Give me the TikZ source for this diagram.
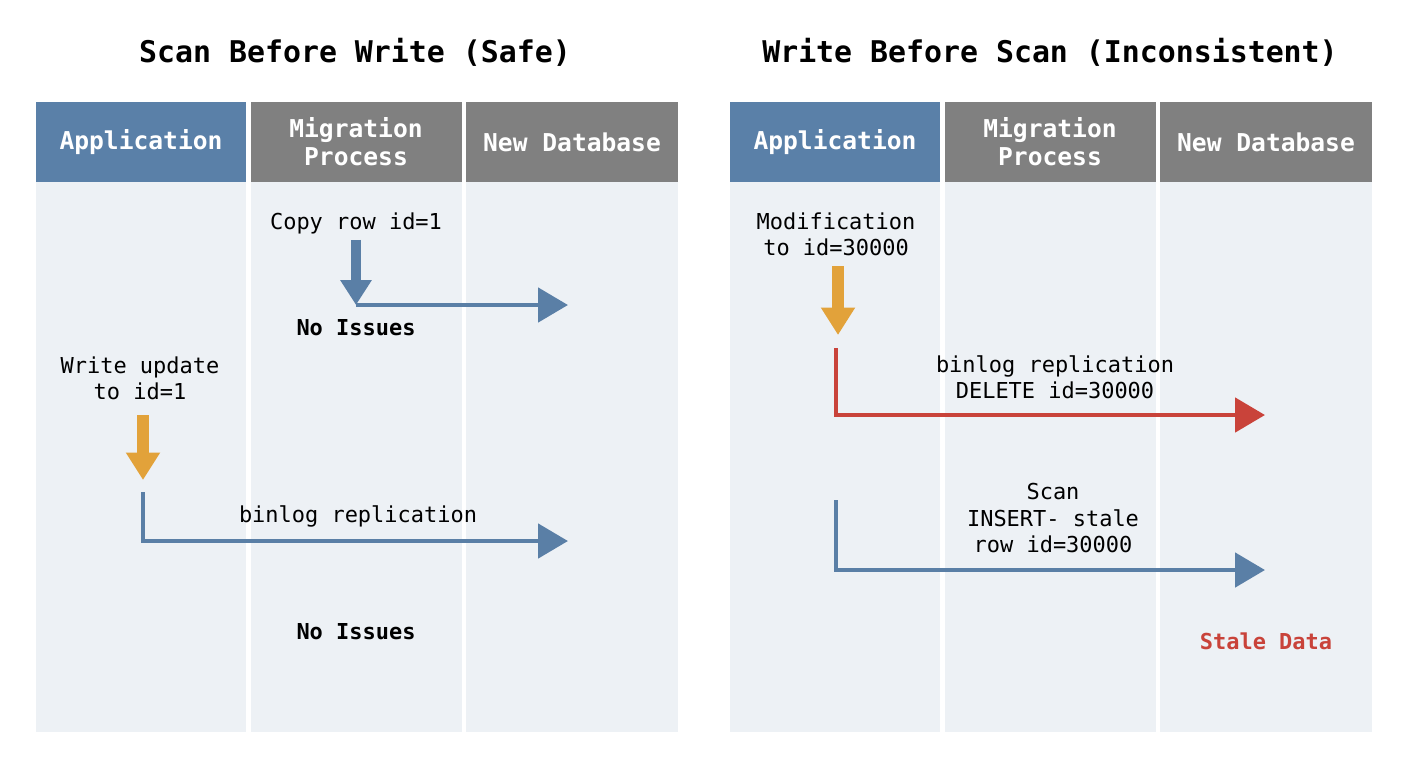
\documentclass[tikz,border=0pt]{standalone}
\usepackage{fontspec}
\setmonofont{DejaVu Sans Mono}
\usetikzlibrary{arrows.meta}
\definecolor{appblue}{HTML}{5A80A8}
\definecolor{hdrgray}{HTML}{808080}
\definecolor{lanebg}{HTML}{EDF1F5}
\definecolor{flowblue}{HTML}{5A7FA6}
\definecolor{floworange}{HTML}{E2A23A}
\definecolor{flowred}{HTML}{C9433A}
\begin{document}
\begin{tikzpicture}[
    x=0.02cm, y=-0.02cm,
    % panel styling
    title/.style={font=\ttfamily\bfseries\fontsize{17}{20}\selectfont, text=black},
    header/.style={font=\ttfamily\bfseries\fontsize{14}{16}\selectfont, text=white, align=center},
    lane/.style={fill=lanebg, draw=none},
    event/.style={font=\ttfamily\fontsize{12.5}{15}\selectfont, align=center, text=black},
    issue/.style={font=\ttfamily\bfseries\fontsize{12.5}{15}\selectfont, text=black},
    flow/.style={-{Triangle[length=0.6cm,width=0.68cm]}, line width=2.8pt},
    drop/.style={-{Triangle[length=0.55cm,width=0.65cm]}, line width=7pt, draw=floworange}
]
    \useasboundingbox[fill=white] (0,0) rectangle (1408,768);

    % Lanes of both panels
    \foreach \ox in {0,694} {
        \fill[lane] (36+\ox,182) rectangle (678+\ox,732);
        \fill[appblue] (36+\ox,102) rectangle (246+\ox,182);
        \fill[hdrgray] (251+\ox,102) rectangle (462+\ox,182);
        \fill[hdrgray] (466+\ox,102) rectangle (678+\ox,182);
        \draw[white, line width=2.3pt] (248.5+\ox,102) -- (248.5+\ox,732);
        \draw[white, line width=2.3pt] (464+\ox,102) -- (464+\ox,732);
        \node[header] (app\ox) at (141+\ox,142) {Application};
        \node[header] (mig\ox) at (356+\ox,142) {Migration\\Process};
        \node[header] (db\ox) at (572+\ox,142) {New Database};
    }

    % Left panel: scan before write
    \node[title] (safe) at (355,52) {Scan Before Write (Safe)};
    \node[event] (copy) at (356,223) {Copy row id=1};
    \coordinate (copybend) at (356,305);
    \coordinate (copyend) at (568,305);
    \draw[flowblue, -{Triangle[length=0.5cm,width=0.6cm]}, line width=6pt] (copy.south) -- (copybend);
    \draw[flow, flowblue] (copybend) -- (copyend);
    \node[issue] (ok1) at (356,328) {No Issues};
    \node[event] (write) at (140,378) {Write update\\ to id=1};
    \coordinate (writetop) at (143,415);
    \coordinate (writearr) at (143,480);
    \draw[drop] (writetop) -- (writearr);
    \coordinate (binstart) at (143,492);
    \coordinate (binend) at (568,541);
    \draw[flow, flowblue] (binstart) |- (binend);
    \node[event] (binlbl) at (358,516) {binlog replication};
    \node[issue] (ok2) at (356,632) {No Issues};

    % Right panel: write before scan
    \node[title] (bad) at (1050,52) {Write Before Scan (Inconsistent)};
    \node[event] (modif) at (836,234) {Modification\\to id=30000};
    \coordinate (modtop) at (838,266);
    \coordinate (modarr) at (838,335);
    \draw[drop] (modtop) -- (modarr);
    \coordinate (delstart) at (836,348);
    \coordinate (delend) at (1265,415);
    \draw[flow, flowred] (delstart) |- (delend);
    \node[event] (dellbl) at (1055,377) {binlog replication\\DELETE id=30000};
    \coordinate (insstart) at (836,500);
    \coordinate (insend) at (1265,570);
    \draw[flow, flowblue] (insstart) |- (insend);
    \node[event] (inslbl) at (1053,518) {Scan\\INSERT- stale\\row id=30000};
    \node[issue, text=flowred] (stale) at (1266,641) {Stale Data};
\end{tikzpicture}
\end{document}
